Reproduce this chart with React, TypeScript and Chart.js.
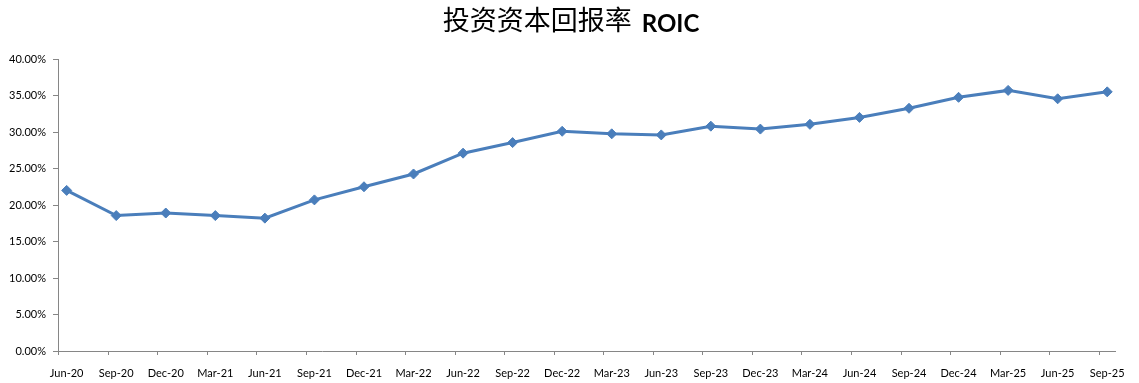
import React, { useEffect, useRef } from "react";
import { Chart, registerables } from "chart.js";

Chart.register(...registerables);

const categories = [
  "Jun-20", "Sep-20", "Dec-20", "Mar-21", "Jun-21", "Sep-21", "Dec-21", "Mar-22",
  "Jun-22", "Sep-22", "Dec-22", "Mar-23", "Jun-23", "Sep-23", "Dec-23", "Mar-24",
  "Jun-24", "Sep-24", "Dec-24", "Mar-25", "Jun-25", "Sep-25",
];

const roicValues = [
  22.0, 18.55, 18.9, 18.55, 18.2, 20.7, 22.5, 24.25,
  27.1, 28.55, 30.1, 29.75, 29.6, 30.8, 30.4, 31.05,
  32.0, 33.25, 34.75, 35.7, 34.55, 35.5,
];

const yTickValues = [0, 5, 10, 15, 20, 25, 30, 35, 40];

const titleMain = "投资资本回报率";
const titleLatin = "ROIC";

const LINE_COLOR = "#4A7EBB";
const AXIS_COLOR = "#868686";
const X_MIN = -0.175;
const X_MAX = 21.157;
const TICK_SHIFT = -0.17;

export default function App() {
  const ref = useRef<HTMLCanvasElement | null>(null);

  useEffect(() => {
    document.body.style.margin = "0";
    const canvas = ref.current;
    if (!canvas) return;

    const titlePlugin = {
      id: "mixedTitle",
      afterDraw(chart: any) {
        const ctx = chart.ctx;
        ctx.save();
        ctx.fillStyle = "#000";
        ctx.textBaseline = "alphabetic";
        const f1 = '27px "Noto Sans CJK SC"';
        const f2 = 'bold 24px Lato';
        ctx.font = f1;
        const w1 = ctx.measureText(titleMain).width;
        ctx.font = f2;
        const w2 = ctx.measureText(titleLatin).width;
        const gap = 10;
        const total = w1 + gap + w2;
        const cx = 571;
        const x0 = cx - total / 2;
        ctx.textAlign = "left";
        ctx.font = f1;
        ctx.fillText(titleMain, x0, 30);
        ctx.font = f2;
        ctx.fillText(titleLatin, x0 + w1 + gap, 31.5);
        ctx.restore();
      },
    };

    const xTickMarks = {
      id: "xTickMarks",
      afterDraw(chart: any) {
        const ctx = chart.ctx;
        const xs = chart.scales.x;
        const bottom = chart.chartArea.bottom;
        ctx.save();
        ctx.strokeStyle = AXIS_COLOR;
        ctx.lineWidth = 1;
        ctx.beginPath();
        categories.forEach((_, i) => {
          const px = Math.round(xs.getPixelForValue(i + TICK_SHIFT)) + 0.5;
          ctx.moveTo(px, bottom);
          ctx.lineTo(px, bottom + 4);
        });
        ctx.stroke();
        ctx.restore();
      },
    };

    const chart = new Chart(canvas, {
      type: "line",
      data: {
        datasets: [
          {
            label: "ROIC",
            data: roicValues.map((v, i) => ({ x: i, y: v })),
            borderColor: LINE_COLOR,
            backgroundColor: LINE_COLOR,
            borderWidth: 3,
            pointStyle: "rectRot",
            pointRadius: 5,
            pointBorderWidth: 1,
            pointBackgroundColor: LINE_COLOR,
            pointBorderColor: LINE_COLOR,
            tension: 0,
          },
        ],
      },
      options: {
        animation: false,
        responsive: false,
        devicePixelRatio: 1,
        layout: { padding: { top: 59, right: 24, left: 0, bottom: 0 } },
        plugins: {
          legend: { display: false },
          title: { display: false },
          tooltip: { enabled: false },
        },
        scales: {
          x: {
            type: "linear",
            min: X_MIN,
            max: X_MAX,
            afterBuildTicks(scale: any) {
              scale.ticks = categories.map((_, i) => ({ value: i }));
            },
            afterFit(scale: any) {
              scale.height = 32;
            },
            grid: { display: false },
            border: { display: true, color: AXIS_COLOR, width: 1 },
            ticks: {
              autoSkip: false,
              maxRotation: 0,
              minRotation: 0,
              padding: 8,
              color: "#000",
              font: { family: "Lato", size: 11 },
              callback: (v: any) => categories[Math.round(Number(v))] ?? "",
            },
          },
          y: {
            min: 0,
            max: 40,
            afterBuildTicks(scale: any) {
              scale.ticks = yTickValues.map((v) => ({ value: v }));
            },
            afterFit(scale: any) {
              scale.width = 58;
            },
            grid: {
              display: true,
              drawOnChartArea: false,
              drawTicks: true,
              tickLength: 5,
              color: AXIS_COLOR,
            },
            border: { display: true, color: AXIS_COLOR, width: 1 },
            ticks: {
              padding: 7,
              color: "#000",
              font: { family: "Lato", size: 11 },
              callback: (v: any) => Number(v).toFixed(2) + "%",
            },
          },
        },
      },
      plugins: [titlePlugin, xTickMarks],
    });

    return () => chart.destroy();
  }, []);

  return (
    <div style={{ width: 1139, height: 383, background: "#fff" }}>
      <canvas ref={ref} width={1139} height={383} style={{ display: "block" }} />
    </div>
  );
}
